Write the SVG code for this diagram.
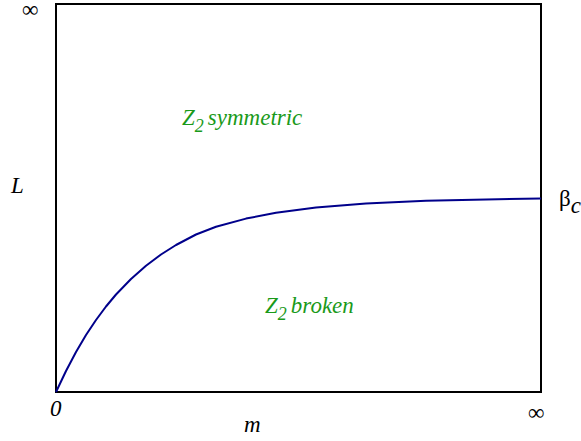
<svg xmlns="http://www.w3.org/2000/svg" width="581" height="441" viewBox="0 0 581 441">
<style>
.i{font-style:italic}
.g{fill:#1a9a1a;font-style:italic}
</style>
<rect width="581" height="441" fill="#fff"/>
<g id="frame"><rect x="56" y="4" width="485" height="388" fill="none" stroke="#000" stroke-width="2"/></g>
<g id="connectors">
<polyline id="curve" fill="none" stroke="#00008b" stroke-width="2" stroke-linejoin="round" points="56,392 66,371 76,352 86,335 96,320 106,306.5 116,294.5 131,279 146,265.8 161,254.5 176,245 196,234.5 216,226.8 246,218.6 276,212.8 316,207.4 366,203.4 426,200.8 486,199.4 541,198.5"/>
</g>
<g id="labels" font-family="Liberation Serif, DejaVu Serif, serif" font-size="23" fill="#000">
<text x="22" y="17">∞</text>
<text class="i" x="11" y="193">L</text>
<text class="i" x="50" y="416">0</text>
<text class="i" x="244" y="432">m</text>
<text x="528" y="420">∞</text>
<text x="559" y="206">β<tspan class="i" dy="7">c</tspan></text>
</g>
<g id="sym" font-family="Liberation Serif, DejaVu Serif, serif" font-size="23"><text class="g" x="182" y="125">Z<tspan dy="7" font-size="18">2</tspan><tspan dy="-7" dx="4">symmetric</tspan></text></g>
<g id="brk" font-family="Liberation Serif, DejaVu Serif, serif" font-size="23"><text class="g" x="265" y="313">Z<tspan dy="7" font-size="18">2</tspan><tspan dy="-7" dx="4">broken</tspan></text></g>
</svg>
